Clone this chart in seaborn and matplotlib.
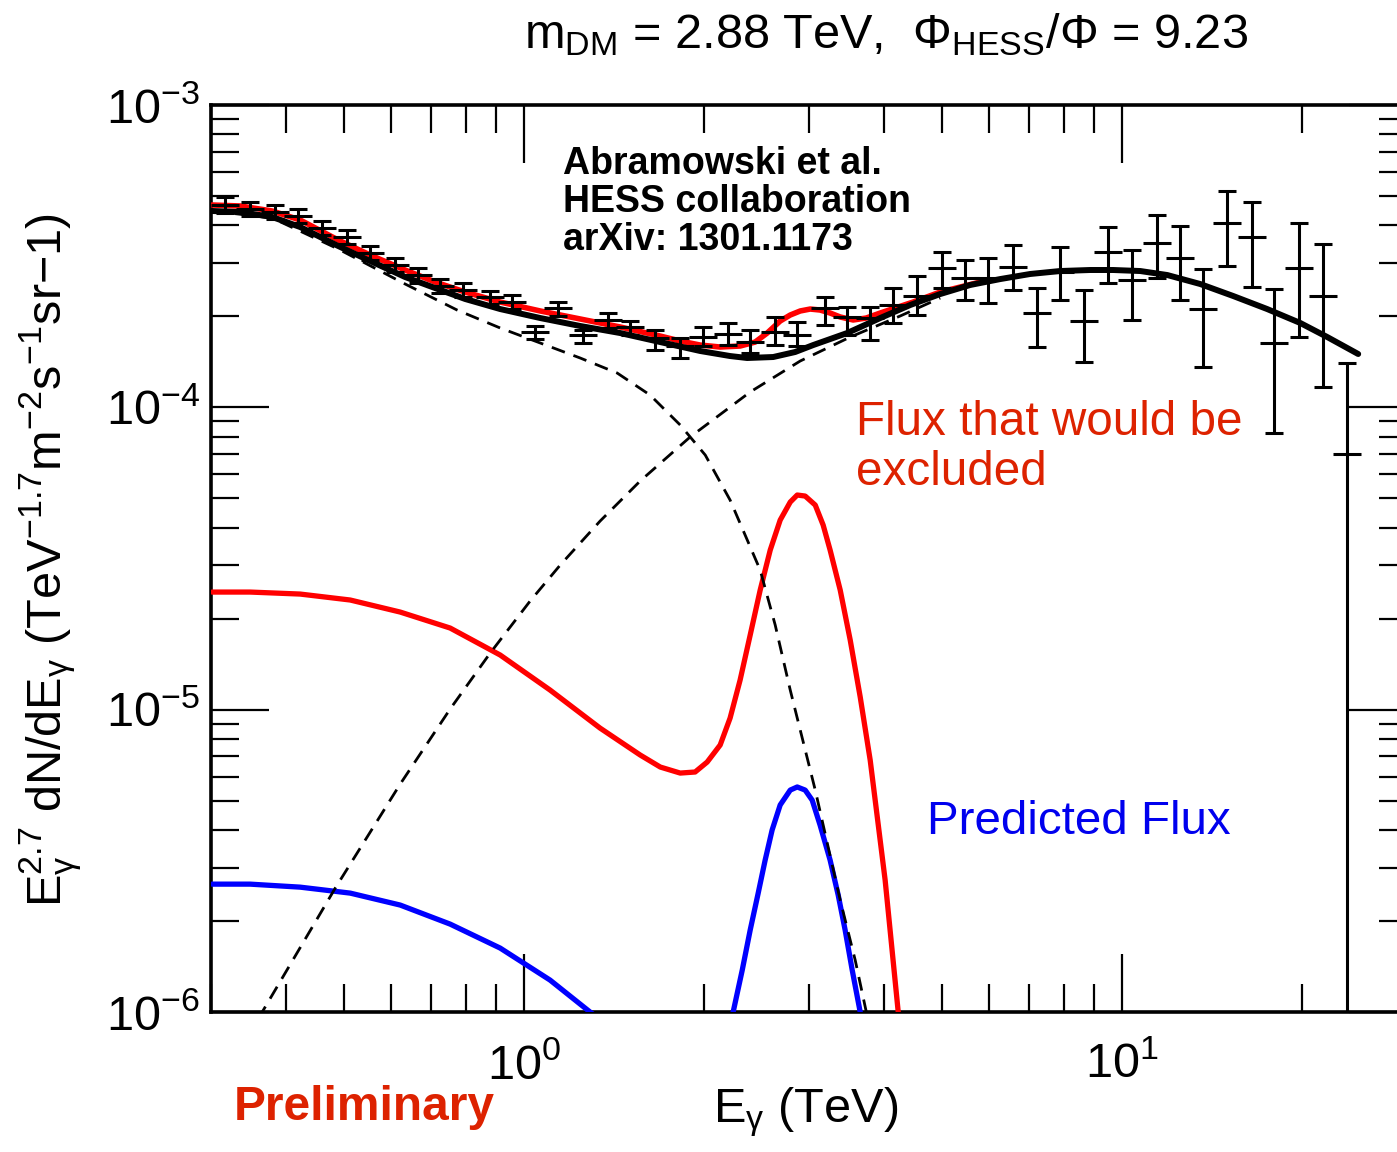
import numpy as np
import seaborn as sns
import matplotlib.pyplot as plt
from matplotlib import font_manager
from matplotlib.ticker import LogLocator, NullFormatter

# flux values below are in units of 1e-4 TeV^1.7 m^-2 s^-1 sr^-1
UNIT = 1e-4

# HESS data points (Abramowski et al.)
hess_e = [0.317, 0.349, 0.384, 0.420, 0.460, 0.507, 0.554, 0.610, 0.666, 0.725,
          0.792, 0.879, 0.957, 1.045, 1.142, 1.257, 1.384, 1.507, 1.660, 1.827,
          1.996, 2.198, 2.392, 2.634, 2.867, 3.193, 3.475, 3.797, 4.149, 4.550,
          5.010, 5.473, 5.981, 6.587, 7.224, 7.891, 8.656, 9.494, 10.41, 11.47,
          12.53, 13.69, 15.01, 16.53, 17.99, 19.81, 21.73, 23.84]
hess_flux = [4.669, 4.529, 4.426, 4.293, 3.918, 3.659, 3.239, 2.956, 2.739, 2.519,
             2.443, 2.316, 2.230, 1.775, 2.131, 1.735, 1.945, 1.844, 1.695, 1.595,
             1.708, 1.748, 1.644, 1.775, 1.735, 2.131, 1.990, 1.974, 2.180, 2.334,
             2.889, 2.677, 2.677, 2.911, 2.051, 2.802, 1.930, 3.264, 2.636, 3.495,
             3.118, 2.114, 4.070, 3.659, 1.632, 2.889, 2.334, 0.701]
hess_hi = [4.963, 4.777, 4.669, 4.529, 4.133, 3.859, 3.417, 3.118, 2.889, 2.656,
           2.577, 2.424, 2.352, 1.858, 2.230, 1.802, 2.051, 1.930, 1.802, 1.695,
           1.844, 1.901, 1.802, 1.990, 1.915, 2.316, 2.147, 2.147, 2.480, 2.718,
           3.264, 3.071, 3.118, 3.443, 2.480, 3.391, 2.443, 3.948, 3.314, 4.326,
           3.978, 2.867, 5.194, 4.777, 2.462, 4.070, 3.469, 1.401]
hess_lo = [4.392, 4.293, 4.196, 4.070, 3.715, 3.469, 3.071, 2.802, 2.577, 2.388,
           2.316, 2.196, 2.114, 1.682, 2.005, 1.632, 1.830, 1.735, 1.547, 1.456,
           1.595, 1.607, 1.512, 1.607, 1.595, 1.872, 1.735, 1.670, 1.901, 2.020,
           2.480, 2.264, 2.213, 2.443, 1.583, 2.264, 1.412, 2.577, 1.945, 2.677,
           2.264, 1.359, 2.934, 2.499, 0.822, 1.708, 1.167, 0.001]

# background fit (total)
fit_e = [0.3013, 0.3357, 0.3797, 0.4229, 0.4896, 0.5537, 0.6335, 0.7112, 0.7984, 0.9135,
         1.066, 1.243, 1.450, 1.692, 1.973, 2.214, 2.364, 2.614, 2.844, 3.049,
         3.475, 3.947, 4.430, 4.972, 5.580, 6.263, 7.031, 7.891, 8.859, 9.678,
         10.74, 11.92, 13.53, 15.37, 17.51, 19.89, 22.07, 24.86]
fit_flux = [4.461, 4.426, 4.262, 3.948, 3.417, 3.048, 2.698, 2.480, 2.282, 2.114,
            1.974, 1.858, 1.761, 1.644, 1.536, 1.478, 1.456, 1.467, 1.524, 1.607,
            1.761, 1.974, 2.180, 2.370, 2.539, 2.656, 2.761, 2.824, 2.846, 2.846,
            2.824, 2.739, 2.558, 2.334, 2.114, 1.901, 1.708, 1.501]

# background fit + excluded DM signal
fit_dm_e = [0.3013, 0.3357, 0.3797, 0.4229, 0.4896, 0.5537, 0.6335, 0.7112, 0.7984, 0.9135,
            1.066, 1.243, 1.450, 1.692, 1.827, 1.973, 2.131, 2.301, 2.438, 2.554,
            2.685, 2.791, 2.900, 3.014, 3.131, 3.254, 3.383, 3.556, 3.739, 3.947,
            4.480, 4.972, 5.800]
fit_dm_flux = [4.669, 4.634, 4.461, 4.165, 3.576, 3.190, 2.846, 2.597, 2.406, 2.230,
               2.083, 1.960, 1.844, 1.721, 1.657, 1.607, 1.583, 1.595, 1.644, 1.761,
               1.930, 2.020, 2.083, 2.114, 2.098, 2.051, 1.990, 1.945, 1.974, 2.051,
               2.230, 2.406, 2.597]

# the two components of the fit (dashed)
comp_low_e = [0.3013, 0.3797, 0.4896, 0.6335, 0.7739, 0.9135, 1.066, 1.243, 1.433, 1.627,
              1.827, 2.012, 2.214, 2.486, 2.634, 2.791, 3.073, 3.383, 3.584, 3.797]
comp_low_flux = [4.461, 4.229, 3.340, 2.558, 2.098, 1.830, 1.632, 1.456, 1.299, 1.098,
                 0.874, 0.6954, 0.4935, 0.2895, 0.1905, 0.1161, 0.0542, 0.02345,
                 0.01485, 0.00871]
comp_high_e = [0.3488, 0.3653, 0.4841, 0.6216, 0.7534, 0.8790, 1.025, 1.151, 1.342, 1.566,
               1.898, 2.392, 2.900, 3.516, 4.262, 4.972]
comp_high_flux = [0.00807, 0.00999, 0.02570, 0.05674, 0.1005, 0.1539, 0.2287, 0.3008,
                  0.4205, 0.5705, 0.7977, 1.124, 1.423, 1.708, 2.005, 2.299]

# DM flux that would be excluded
excl_e = [0.3013, 0.3488, 0.4229, 0.5128, 0.6216, 0.7534, 0.9135, 1.107, 1.342, 1.566,
          1.692, 1.827, 1.935, 2.027, 2.131, 2.214, 2.301, 2.392, 2.486, 2.584,
          2.685, 2.791, 2.867, 2.956, 3.073, 3.168, 3.254, 3.383, 3.516, 3.654,
          3.797, 4.022, 4.230, 4.430]
excl_flux = [0.2449, 0.2449, 0.2412, 0.2305, 0.2103, 0.1862, 0.1516, 0.1161, 0.0869,
             0.0708, 0.0646, 0.0617, 0.0622, 0.0671, 0.0764, 0.0938, 0.1253, 0.1765,
             0.2487, 0.3373, 0.4238, 0.4861, 0.5128, 0.5088, 0.4751, 0.4080, 0.3373,
             0.2487, 0.1699, 0.1101, 0.0681, 0.0273, 0.00999, 0.00511]

# predicted DM flux
pred_e = [0.3013, 0.3488, 0.4229, 0.5128, 0.6216, 0.7534, 0.9135, 1.107, 1.292, 1.566,
          1.827, 2.131, 2.240, 2.320, 2.392, 2.467, 2.534, 2.603, 2.685, 2.791,
          2.867, 2.956, 3.037, 3.131, 3.254, 3.357, 3.448, 3.543, 3.654, 3.797]
pred_flux = [0.02648, 0.02648, 0.02588, 0.02473, 0.02258, 0.01953, 0.01627, 0.01275,
             0.00999, 0.00765, 0.00667, 0.00826, 0.00999, 0.01376, 0.01866, 0.02473,
             0.0318, 0.0400, 0.0484, 0.0542, 0.0555, 0.0542, 0.0502, 0.0415, 0.0318,
             0.02436, 0.01866, 0.01376, 0.00999, 0.00642]


def has_font(name):
    try:
        font_manager.findfont(name, fallback_to_default=False)
        return True
    except Exception:
        return False


sns.set_theme(style="ticks")
narrow = "Liberation Sans Narrow" if has_font("Liberation Sans Narrow") else "Liberation Sans"
plt.rcParams["font.family"] = [narrow, "DejaVu Sans"]
plt.rcParams.update({
    "mathtext.fontset": "custom",
    "mathtext.rm": narrow,
    "mathtext.it": narrow,
    "mathtext.bf": narrow,
    "mathtext.sf": narrow,
    "mathtext.default": "regular",
})

fig = plt.figure(figsize=(13.97, 11.52), dpi=100)
ax = fig.add_axes([211 / 1397, 140 / 1152, (1407 - 211) / 1397, 907 / 1152])
ax.set_xscale("log")
ax.set_yscale("log")

u = lambda v: np.asarray(v) * UNIT
dash = (0, (5, 3.3))

sns.lineplot(x=excl_e, y=u(excl_flux), ax=ax, color="#ff0000", lw=3.8, zorder=3)
sns.lineplot(x=pred_e, y=u(pred_flux), ax=ax, color="#0000ff", lw=3.8, zorder=3)
sns.lineplot(x=comp_low_e, y=u(comp_low_flux), ax=ax, color="black", lw=2.0,
             linestyle=dash, zorder=3)
sns.lineplot(x=comp_high_e, y=u(comp_high_flux), ax=ax, color="black", lw=2.0,
             linestyle=dash, zorder=3)
sns.lineplot(x=fit_dm_e, y=u(fit_dm_flux), ax=ax, color="#ff0000", lw=4.0, zorder=4)
sns.lineplot(x=fit_e, y=u(fit_flux), ax=ax, color="black", lw=4.3, zorder=5)

flux = u(hess_flux)
yerr = [flux - u(hess_lo), u(hess_hi) - flux]
ax.errorbar(hess_e, flux, yerr=yerr, fmt="_", color="black", ms=20, mew=2.2,
            elinewidth=2.2, capsize=6.5, capthick=2.2, zorder=6)

ax.set_xlim(0.3, 30)
ax.set_ylim(1e-6, 1e-3)

for axis in (ax.xaxis, ax.yaxis):
    axis.set_major_locator(LogLocator(base=10))
    axis.set_minor_locator(LogLocator(base=10, subs=np.arange(2, 10)))
    axis.set_minor_formatter(NullFormatter())
ax.tick_params(which="both", direction="in", top=True, right=True, color="black",
               labelsize=35, labelcolor="black")
ax.tick_params(which="major", length=42, width=1.6)
ax.tick_params(which="minor", length=20, width=1.6)
ax.tick_params(axis="x", pad=22)
ax.tick_params(axis="y", pad=8)
for s in ax.spines.values():
    s.set_linewidth(2.6)
    s.set_color("black")

fig.text(886 / 1397, 1 - 48 / 1152,
         r"$\mathrm{m_{DM}}$ = 2.88 TeV,  $\Phi_{\mathrm{HESS}}/\Phi$ = 9.23",
         ha="center", va="baseline", fontsize=35, color="black")
fig.text(806 / 1397, 1 - 1122 / 1152, r"$\mathrm{E_{\gamma}}$ (TeV)",
         ha="center", va="baseline", fontsize=35, color="black")
fig.text(50 / 1397, 1 - 560 / 1152,
         r"$\mathrm{E_{\gamma}^{2.7}}$ dN/dE$_{\gamma}$ (TeV$^{-1.7}$m$^{-2}$s$^{-1}$sr$-$1)",
         rotation=90, ha="center", va="center", fontsize=35, color="black")

fig.text(563 / 1397, 1 - 146 / 1152,
         "Abramowski et al.\nHESS collaboration\narXiv: 1301.1173",
         ha="left", va="top", fontsize=27, fontweight="bold", color="black",
         family="Liberation Sans", linespacing=1.08)
fig.text(856 / 1397, 1 - 400 / 1152, "Flux that would be\nexcluded",
         ha="left", va="top", fontsize=34.3, color="#dd2200",
         family="Liberation Sans", linespacing=1.13)
fig.text(927 / 1397, 1 - 822 / 1152, "Predicted Flux",
         ha="left", va="center", fontsize=34.2, color="#0000ee",
         family="Liberation Sans")
fig.text(234 / 1397, 1 - 1120 / 1152, "Preliminary",
         ha="left", va="baseline", fontsize=34.5, fontweight="bold", color="#dd2200",
         family="Liberation Sans")

fig.savefig("out.png", dpi=100)
